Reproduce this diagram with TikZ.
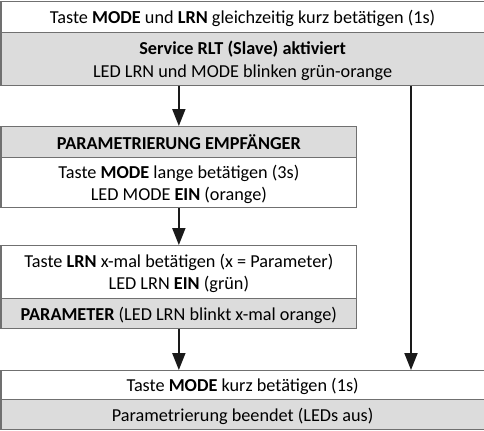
\documentclass[tikz,border=0pt]{standalone}
\usepackage{fontspec}
\setmainfont{Carlito}
\usetikzlibrary{arrows.meta}
\definecolor{bordergray}{HTML}{707070}
\definecolor{fillgray}{HTML}{DCDCDC}
\definecolor{arrowdark}{HTML}{1A1A1A}
\tikzset{
  boxw/.style={draw=bordergray, line width=1.2bp, fill=white, inner sep=0pt, anchor=north west, align=center, text depth=0pt, font=\fontsize{18.3}{22.5}\selectfont},
  boxg/.style={boxw, fill=fillgray},
  arr/.style={draw=arrowdark, line width=2bp, -{Triangle[width=13bp,length=17bp]}},
}
\begin{document}
\begin{tikzpicture}[x=1bp,y=-1bp]
\useasboundingbox (0,0) rectangle (484,430);
\node[boxw, minimum width=483bp, minimum height=31bp] (t1) at (0.5,1) {Taste \textbf{MODE} und \textbf{LRN} gleichzeitig kurz betätigen (1s)};
\node[boxg, minimum width=483bp, minimum height=53bp] (t2) at (0.5,32) {\textbf{Service RLT (Slave) aktiviert}\\LED LRN und MODE blinken grün-orange};
\node[boxg, minimum width=355.5bp, minimum height=31bp] (p1) at (0.5,126) {\textbf{PARAMETRIERUNG EMPFÄNGER}};
\node[boxw, minimum width=355.5bp, minimum height=50bp] (p2) at (0.5,157) {Taste \textbf{MODE} lange betätigen (3s)\\LED MODE \textbf{EIN} (orange)};
\node[boxw, minimum width=355.5bp, minimum height=53bp] (q1) at (0.5,245) {Taste \textbf{LRN} x-mal betätigen (x = Parameter)\\LED LRN \textbf{EIN} (grün)};
\node[boxg, minimum width=355.5bp, minimum height=30bp] (q2) at (0.5,298) {\textbf{PARAMETER} (LED LRN blinkt x-mal orange)};
\node[boxw, minimum width=483bp, minimum height=29bp] (b1) at (0.5,370) {Taste \textbf{MODE} kurz betätigen (1s)};
\node[boxg, minimum width=483bp, minimum height=30bp] (b2) at (0.5,399) {Parametrierung beendet (LEDs aus)};
\coordinate (r) at (411,0);
\draw[arr] (t2.south -| p1.north) -- (p1.north);
\draw[arr] (p2.south) -- (q1.north);
\draw[arr] (q2.south) -- (q2.south |- b1.north);
\draw[arr] (t2.south -| r) -- (b1.north -| r);
\end{tikzpicture}
\end{document}
